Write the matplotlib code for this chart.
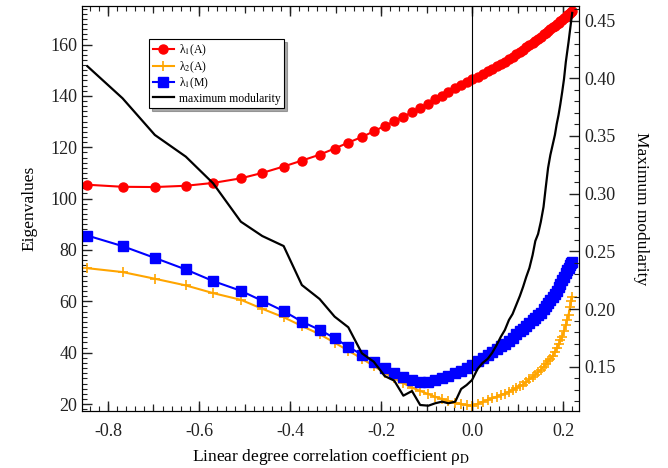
import numpy as np
import matplotlib
matplotlib.use("Agg")
import matplotlib.pyplot as plt
from matplotlib.ticker import MultipleLocator, FormatStrFormatter

plt.rcParams['font.family'] = ['Liberation Serif', 'DejaVu Serif']
plt.rcParams['mathtext.fontset'] = 'stix'
plt.rcParams['axes.unicode_minus'] = False

# degree correlation coefficient of each network
rho = [-0.845, -0.768, -0.697, -0.629, -0.569, -0.508, -0.461, -0.414, -0.374, -0.335,
       -0.302, -0.272, -0.242, -0.216, -0.192, -0.171, -0.151, -0.132, -0.114, -0.096,
       -0.081, -0.066, -0.052, -0.037, -0.024, -0.012, 0.000, 0.012, 0.023, 0.034,
       0.044, 0.054, 0.063, 0.072, 0.081, 0.089, 0.097, 0.105, 0.112, 0.119,
       0.126, 0.133, 0.139, 0.145, 0.151, 0.157, 0.162, 0.167, 0.172, 0.177,
       0.182, 0.186, 0.190, 0.194, 0.198, 0.202, 0.206, 0.209, 0.212, 0.215,
       0.218, 0.220]

lam1_A = [105.4, 104.6, 104.5, 105.0, 106.1, 107.9, 110.0, 112.5, 114.8, 117.1,
          119.5, 121.8, 124.0, 126.2, 128.3, 130.1, 131.9, 133.6, 135.3, 137.0,
          138.6, 140.1, 141.6, 143.2, 144.4, 145.4, 146.4, 147.5, 148.5, 149.6,
          150.6, 151.5, 152.4, 153.3, 154.3, 155.2, 156.2, 157.2, 158.0, 158.9,
          159.8, 160.7, 161.5, 162.3, 163.1, 163.9, 164.6, 165.3, 166.0, 166.7,
          167.3, 167.9, 168.5, 169.1, 169.7, 170.3, 170.9, 171.4, 171.9, 172.3,
          172.7, 173.0]

lam2_A = [72.9, 71.4, 68.8, 66.2, 63.2, 60.6, 57.1, 53.8, 50.4, 47.2,
          43.9, 40.8, 37.7, 34.8, 32.2, 30.0, 28.1, 26.4, 25.1, 23.9,
          22.8, 22.0, 21.2, 20.4, 20.0, 19.6, 19.4, 20.1, 20.9, 21.6,
          22.2, 22.9, 23.5, 24.1, 24.8, 25.5, 26.2, 27.0, 27.6, 28.6,
          29.6, 30.6, 31.5, 32.3, 33.4, 34.6, 35.6, 36.6, 37.6, 38.7,
          40.3, 41.7, 43.2, 44.8, 46.2, 48.5, 50.9, 52.9, 54.8, 57.6,
          60.1, 61.6]

lam1_M = [85.6, 81.5, 76.9, 72.4, 67.9, 64.1, 60.2, 56.2, 52.1, 48.9,
          45.7, 42.3, 39.2, 36.5, 33.9, 32.0, 30.4, 29.4, 28.7, 28.6,
          29.4, 30.3, 30.9, 32.2, 33.0, 34.0, 35.3, 36.7, 37.9, 39.2,
          40.4, 41.5, 42.5, 43.5, 44.7, 45.9, 47.1, 48.3, 49.4, 50.5,
          51.6, 52.7, 53.7, 54.6, 55.6, 57.0, 58.2, 59.4, 60.6, 61.8,
          63.0, 64.2, 65.5, 66.8, 68.2, 69.6, 71.0, 72.1, 73.1, 74.0,
          74.8, 75.5]

max_mod = [0.4104, 0.3827, 0.3509, 0.3321, 0.3090, 0.2757, 0.2633, 0.2546, 0.2208, 0.2087,
           0.1934, 0.1842, 0.1616, 0.1543, 0.1419, 0.1379, 0.1249, 0.1289, 0.1168, 0.1162,
           0.1183, 0.1197, 0.1183, 0.1197, 0.1307, 0.1341, 0.1385, 0.1480, 0.1532, 0.1567,
           0.1619, 0.1688, 0.1758, 0.1818, 0.1905, 0.1957, 0.2035, 0.2113, 0.2191, 0.2278,
           0.2356, 0.2468, 0.2590, 0.2650, 0.2755, 0.2885, 0.3058, 0.3223, 0.3335, 0.3422,
           0.3509, 0.3604, 0.3682, 0.3777, 0.3881, 0.3994, 0.4142, 0.4229, 0.4315, 0.4411,
           0.4506, 0.4567]

fig = plt.figure(figsize=(6.68, 4.68), dpi=100)
ax = fig.add_axes([0.1228, 0.1218, 0.744, 0.8654])
ax2 = ax.twinx()

l1, = ax.plot(rho, lam1_A, color='#ff0000', lw=1.5, marker='o', ms=6.5,
              label=r'λ$_1$(A)')
l2, = ax.plot(rho, lam2_A, color='#ffa500', lw=1.5, marker='+', ms=7, mew=1.2,
              label=r'λ$_2$(A)')
l3, = ax.plot(rho, lam1_M, color='#0000ff', lw=1.5, marker='s', ms=7,
              label=r'λ$_1$(M)')
l4, = ax2.plot(rho, max_mod, color='black', lw=1.6, label='maximum modularity')

ax.axvline(0.0, color='black', lw=0.8)

ax.set_xlim(-0.857, 0.235)
ax.set_ylim(17.3, 175)
ax2.set_ylim(0.1116, 0.4627)

ax.xaxis.set_major_locator(MultipleLocator(0.2))
ax.xaxis.set_minor_locator(MultipleLocator(0.02))
ax.yaxis.set_major_locator(MultipleLocator(20))
ax.yaxis.set_minor_locator(MultipleLocator(2))
ax2.yaxis.set_major_locator(MultipleLocator(0.05))
ax2.yaxis.set_minor_locator(MultipleLocator(0.01))
ax2.yaxis.set_major_formatter(FormatStrFormatter('%.2f'))
ax.xaxis.set_major_formatter(FormatStrFormatter('%.1f'))

ax.tick_params(which='both', direction='in', top=True, right=False,
               labelsize=13, colors='#222222')
ax.tick_params(which='major', length=7, width=1)
ax.tick_params(which='minor', length=3.5, width=0.8)
ax.tick_params(axis='x', which='major', pad=9)
ax2.tick_params(which='both', direction='in', labelsize=13, colors='#222222')
ax2.tick_params(which='major', length=7, width=1)
ax2.tick_params(which='minor', length=3.5, width=0.8)

# medium ticks every 0.1 on bottom and top
for side in ('bottom', 'top'):
    sec = ax.secondary_xaxis(side)
    sec.xaxis.set_major_locator(MultipleLocator(0.1))
    sec.tick_params(direction='in', length=5, width=0.9, labelbottom=False,
                    labeltop=False, colors='#222222')
    sec.spines[side].set_visible(False)

ax.set_xlabel(r'Linear degree correlation coefficient ρ$_\mathrm{D}$', fontsize=12.5,
              labelpad=5)
ax.set_ylabel('Eigenvalues', fontsize=12.5, labelpad=9)
ax2.set_ylabel('Maximum modularity', fontsize=12.5, rotation=270, labelpad=24)

leg = ax.legend(handles=[l1, l2, l3, l4], loc='upper left',
                bbox_to_anchor=(0.135, 0.918), borderaxespad=0, fontsize=8.5,
                handlelength=1.8, handletextpad=0.4, labelspacing=0.1,
                borderpad=0.3, fancybox=False, edgecolor='black', framealpha=1,
                shadow={'color': '#555555'})
leg.get_frame().set_linewidth(0.8)

fig.savefig('out.png', dpi=100)
